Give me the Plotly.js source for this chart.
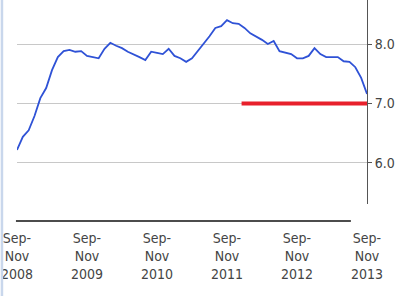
<!DOCTYPE html>
<html>
<head>
<meta charset="utf-8">
<script src="https://cdn.plot.ly/plotly-3.0.1.min.js"></script>
<style>html,body{margin:0;padding:0;background:#fff;}#chart{width:409px;height:296px;}</style>
</head>
<body>
<div id="chart"></div>
<script>
// Unemployment rate (%), rolling three-month periods, Sep-Nov 2008 .. Sep-Nov 2013
const rate = [6.22, 6.44, 6.55, 6.79, 7.09, 7.26, 7.56, 7.78, 7.88, 7.90, 7.87, 7.88,
              7.80, 7.78, 7.76, 7.92, 8.02, 7.97, 7.93, 7.87, 7.83, 7.78, 7.73, 7.87,
              7.85, 7.83, 7.92, 7.80, 7.76, 7.70, 7.76, 7.88, 8.00, 8.13, 8.27, 8.30,
              8.40, 8.35, 8.34, 8.27, 8.18, 8.13, 8.07, 8.00, 8.05, 7.88, 7.85, 7.83,
              7.76, 7.76, 7.80, 7.93, 7.83, 7.78, 7.78, 7.78, 7.71, 7.70, 7.61, 7.43,
              7.16];
const periodIndex = rate.map((v, i) => i);
const tickPositions = [0, 12, 24, 36, 48, 60];
const tickLabels = ["Sep-<br>Nov<br>2008", "Sep-<br>Nov<br>2009", "Sep-<br>Nov<br>2010",
                    "Sep-<br>Nov<br>2011", "Sep-<br>Nov<br>2012", "Sep-<br>Nov<br>2013"];
const yTicks = [6, 7, 8];
// 7% threshold line
const thresholdX = [38.5, 60.5];
const thresholdY = [7, 7];

const font = "'Liberation Sans Narrow', 'Arial Narrow', 'DejaVu Sans Condensed', sans-serif";

const traces = [
  {x: periodIndex, y: rate, type: 'scatter', mode: 'lines',
   line: {color: '#2f52d6', width: 1.8}, hoverinfo: 'skip'},
  {x: thresholdX, y: thresholdY, type: 'scatter', mode: 'lines',
   line: {color: '#e8202c', width: 4}, hoverinfo: 'skip'}
];

const layout = {
  width: 409, height: 296,
  margin: {l: 17, r: 42, t: 0, b: 92},
  paper_bgcolor: '#fff', plot_bgcolor: '#fff',
  showlegend: false,
  font: {family: font, size: 14, color: '#444'},
  xaxis: {
    range: [0, 60], showgrid: false, zeroline: false, showline: false,
    tickvals: tickPositions, ticktext: tickLabels, ticks: '',
    ticklabelstandoff: 24,
    tickfont: {family: font, size: 14, color: '#444'}
  },
  yaxis: {
    side: 'right', range: [5.31, 8.74],
    tickvals: yTicks, tickformat: '.1f',
    showgrid: true, gridcolor: '#c8c8c8', gridwidth: 1,
    zeroline: false, showline: true, linecolor: '#555', linewidth: 1,
    ticks: 'outside', ticklen: 4, tickcolor: '#555',
    tickfont: {family: font, size: 14, color: '#444'}
  },
  shapes: [
    {type: 'line', xref: 'paper', yref: 'paper', x0: -0.003, x1: 0.954, y0: -0.083, y1: -0.083,
     line: {color: '#111', width: 1.5}},
    {type: 'line', xref: 'paper', yref: 'paper', x0: -0.043, x1: -0.043, y0: -0.46, y1: 1,
     line: {color: '#c9d7ec', width: 2.5}}
  ]
};

Plotly.newPlot('chart', traces, layout, {staticPlot: true, displayModeBar: false});
</script>
</body>
</html>
